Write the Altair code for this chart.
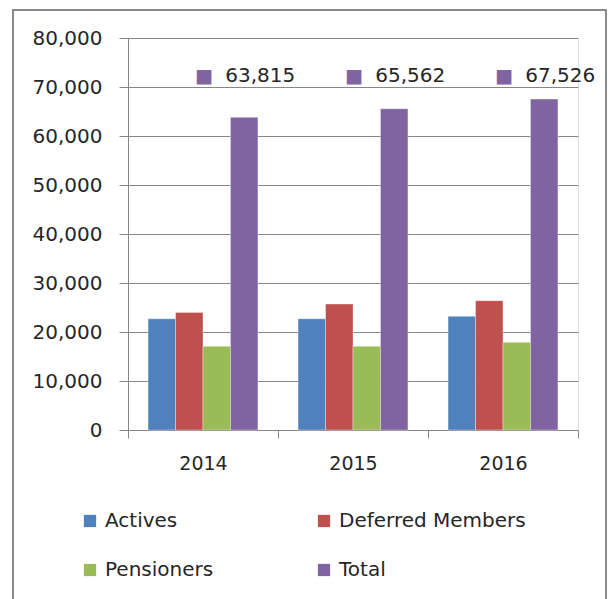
import altair as alt
import pandas as pd

years = ["2014", "2015", "2016"]
series = ["Actives", "Deferred Members", "Pensioners", "Total"]
legend_order = ["Actives", "Pensioners", "Deferred Members", "Total"]
actives = [22700, 22700, 23200]
deferred = [24000, 25700, 26400]
pensioners = [17100, 17100, 17900]
total = [63815, 65562, 67526]
colors = {"Actives": "#4F81BD", "Deferred Members": "#C0504D",
          "Pensioners": "#9BBB59", "Total": "#8064A2"}
y_ticks = [0, 10000, 20000, 30000, 40000, 50000, 60000, 70000, 80000]

rows = []
for i, yr in enumerate(years):
    for s, vals in zip(series, [actives, deferred, pensioners, total]):
        rows.append({"Year": yr, "Series": s, "Value": vals[i]})
df = pd.DataFrame(rows)
tot_df = pd.DataFrame({"Year": years, "Series": ["Total"] * 3, "Value": total})

FONT = "DejaVu Sans"
GRID = "#878787"
TXT = "#262626"

x_enc = alt.X("Year:N", title=None, sort=years,
              scale=alt.Scale(paddingInner=0, paddingOuter=0),
              axis=alt.Axis(labelAngle=0, labelFontSize=19, labelFont=FONT,
                            labelColor=TXT, labelPadding=16, tickSize=8,
                            tickBand="extent", tickColor=GRID, domainColor=GRID,
                            grid=False))
xoff = alt.XOffset("Series:N", sort=series,
                   scale=alt.Scale(paddingInner=0, paddingOuter=0.73))

bars = alt.Chart(df).mark_bar(stroke="white", strokeWidth=0.6, strokeOpacity=0.6).encode(
    x=x_enc,
    xOffset=xoff,
    y=alt.Y("Value:Q", title=None,
            scale=alt.Scale(domain=[0, 80000], nice=False),
            axis=alt.Axis(values=y_ticks, format=",.0f", labelFontSize=20, labelFont=FONT,
                          labelColor=TXT, labelPadding=17, tickSize=9,
                          tickColor=GRID, domainColor=GRID, gridColor=GRID,
                          gridWidth=1)),
    color=alt.Color("Series:N",
                    scale=alt.Scale(domain=legend_order,
                                    range=[colors[s] for s in legend_order]),
                    legend=alt.Legend(title=None, orient="none", legendX=-48, legendY=473,
                                      columns=2, columnPadding=100, rowPadding=29,
                                      symbolType="square", symbolSize=150,
                                      symbolStrokeWidth=0, labelFontSize=20,
                                      labelFont=FONT, labelColor=TXT, labelLimit=400,
                                      labelOffset=5)),
)

sq = alt.Chart(tot_df).mark_text(text="■", fontSize=19, color="#8064A2", dx=-40,
                                 baseline="middle", font=FONT).encode(
    x=alt.X("Year:N", sort=years), xOffset=xoff, y=alt.value(38))
lbl = alt.Chart(tot_df).mark_text(align="left", baseline="middle", dx=-19, fontSize=20,
                                  font=FONT, color=TXT).encode(
    x=alt.X("Year:N", sort=years), xOffset=xoff, y=alt.value(38),
    text=alt.Text("Value:Q", format=","))

frame = alt.Chart(tot_df).mark_rect(fill=None, stroke="#888888", strokeWidth=1.5).encode(
    x=alt.value(-115), x2=alt.value(478), y=alt.value(-28), y2=alt.value(600))

chart = alt.layer(bars, sq, lbl, frame).properties(
    width=450, height=392,
    autosize=alt.AutoSizeParams(type="none"),
    padding={"left": 128, "top": 38, "right": 30, "bottom": 169},
).configure_view(stroke=None).configure(background="white")

chart.save("out.html", embed_options={"renderer": "svg", "actions": False})
